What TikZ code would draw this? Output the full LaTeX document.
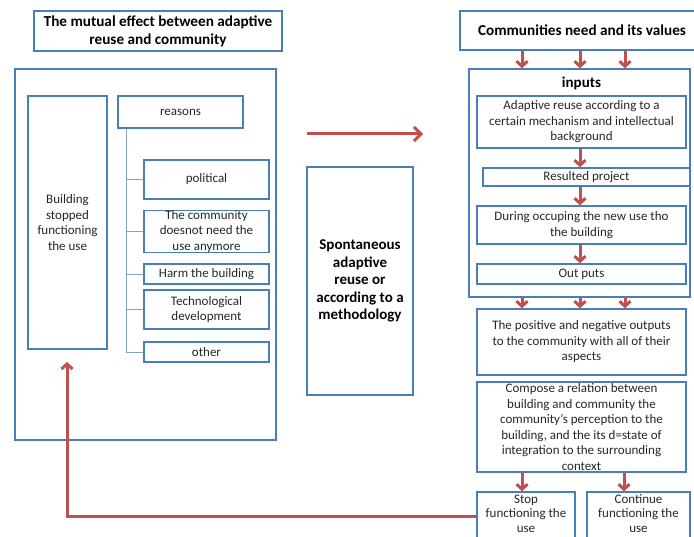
\documentclass[tikz,border=0pt]{standalone}
\usepackage{fontspec}
\setmainfont{Carlito}
\usetikzlibrary{arrows.meta}

\definecolor{boxblue}{HTML}{4A7EBB}
\definecolor{arrred}{HTML}{C0504D}
\definecolor{treeline}{HTML}{8CA2C4}
\definecolor{txt}{HTML}{262626}

\tikzset{
  box/.style={draw=boxblue, line width=1.5pt, inner sep=0pt, align=center,
    text=txt, font=\fontsize{13}{15.5}\selectfont},
  endbox/.style={box, font=\fontsize{13}{14.5}\selectfont, text depth=5pt},
  titlebox/.style={box, text=black, font=\bfseries\fontsize{15.2}{18}\selectfont},
  boldtext/.style={inner sep=0pt, align=center, text=black,
    font=\bfseries\fontsize{15}{17.5}\selectfont},
  redarr/.style={draw=arrred, line width=3pt,
    -{Straight Barb[length=5pt,width=11pt]}},
  bigarr/.style={draw=arrred, line width=3pt,
    -{Straight Barb[length=7pt,width=14pt]}},
  branch/.style={draw=treeline, line width=0.7pt},
}

\begin{document}
\begin{tikzpicture}[x=1pt,y=-1pt]
\useasboundingbox (0,0) rectangle (694,537);
\clip (0,0) rectangle (694,537);

% ---------- left part ----------
\node[titlebox, minimum width=248, minimum height=40] (ltitle) at (158,31)
  {The mutual effect between adaptive\\reuse and community};
\node[box, minimum width=261, minimum height=371] (lframe) at (145.5,254.5) {};
\node[box, minimum width=79, minimum height=253] (stopped) at (67.5,222.5)
  {Building\\stopped\\functioning\\the use};
\node[box, minimum width=125, minimum height=32] (reasons) at (180.5,112) {reasons};
\node[box, minimum width=125, minimum height=39] (political) at (206.5,179.5) {political};
\node[box, minimum width=125, minimum height=39] (noneed) at (206.5,231.5)
  {The community\\doesnot need the\\use anymore};
\node[box, minimum width=125, minimum height=20] (harm) at (206.5,274) {Harm the building};
\node[box, minimum width=125, minimum height=39] (tech) at (206.5,309.5)
  {Technological\\development};
\node[box, minimum width=125, minimum height=20] (other) at (206.5,352) {other};

% tree of reasons
\coordinate (trunk) at (126,0);
\draw[branch] (reasons.south -| trunk) -- (other.west -| trunk);
\foreach \r in {political,noneed,harm,tech,other}
  \draw[branch] (\r.west -| trunk) -- (\r.west);

% ---------- middle part ----------
\coordinate (ha) at (307,134);
\coordinate (hb) at (423,134);
\draw[bigarr] (ha) -- (hb);
\node[box, minimum width=106, minimum height=228] (spont) at (360,281) {};
\node[boldtext] (sponttext) at (spont.center)
  {Spontaneous\\adaptive\\reuse or\\according to a\\methodology};

% ---------- right part ----------
\node[titlebox, minimum width=244, minimum height=39] (rtitle) at (582,30.5)
  {Communities need and its values};
\node[box, minimum width=221, minimum height=228] (inputs) at (579.5,183) {};
\node[boldtext] (inlabel) at (581.5,83) {inputs};
\node[box, minimum width=209, minimum height=52] (mech) at (581.5,122)
  {Adaptive reuse according to a\\certain mechanism and intellectual\\background};
\node[box, minimum width=207, minimum height=18] (project) at (586.5,177) {Resulted project};
\node[box, minimum width=209, minimum height=38] (occupy) at (581.5,225)
  {During occuping the new use tho\\the building};
\node[box, minimum width=209, minimum height=20] (outputs) at (581.5,274) {Out puts};
\node[box, minimum width=209, minimum height=66] (effects) at (581.5,342)
  {The positive and negative outputs\\to the community  with all of their\\aspects};
\node[box, minimum width=209, minimum height=90] (relation) at (581.5,427)
  {Compose  a relation between\\building and community  the\\community's perception to the\\building, and the its d=state of\\integration to the surrounding\\context};
\node[endbox, minimum width=98, minimum height=48] (stop) at (526,516)
  {Stop\\functioning the\\use};
\node[endbox, minimum width=103, minimum height=48] (cont) at (638.5,516)
  {Continue\\functioning the\\use};

% arrow columns
\coordinate (c1) at (522,0);
\coordinate (c2) at (580,0);
\coordinate (c3) at (625,0);
\coordinate (c4) at (624,0);

\foreach \c in {c1,c2,c3} {
  \draw[redarr] (rtitle.south -| \c) -- (inputs.north -| \c);
  \draw[redarr] (inputs.south -| \c) -- (effects.north -| \c);
}
\draw[redarr] (mech.south -| c2) -- (project.north -| c2);
\draw[redarr] (project.south -| c2) -- (occupy.north -| c2);
\draw[redarr] (occupy.south -| c2) -- (outputs.north -| c2);
\draw[redarr] (relation.south -| c1) -- (stop.north -| c1);
\draw[redarr] (relation.south -| c4) -- (cont.north -| c4);

% feedback to the stopped building
\coordinate (back) at (67,362);
\draw[redarr] (stop.west) -| (back);

\end{tikzpicture}
\end{document}
